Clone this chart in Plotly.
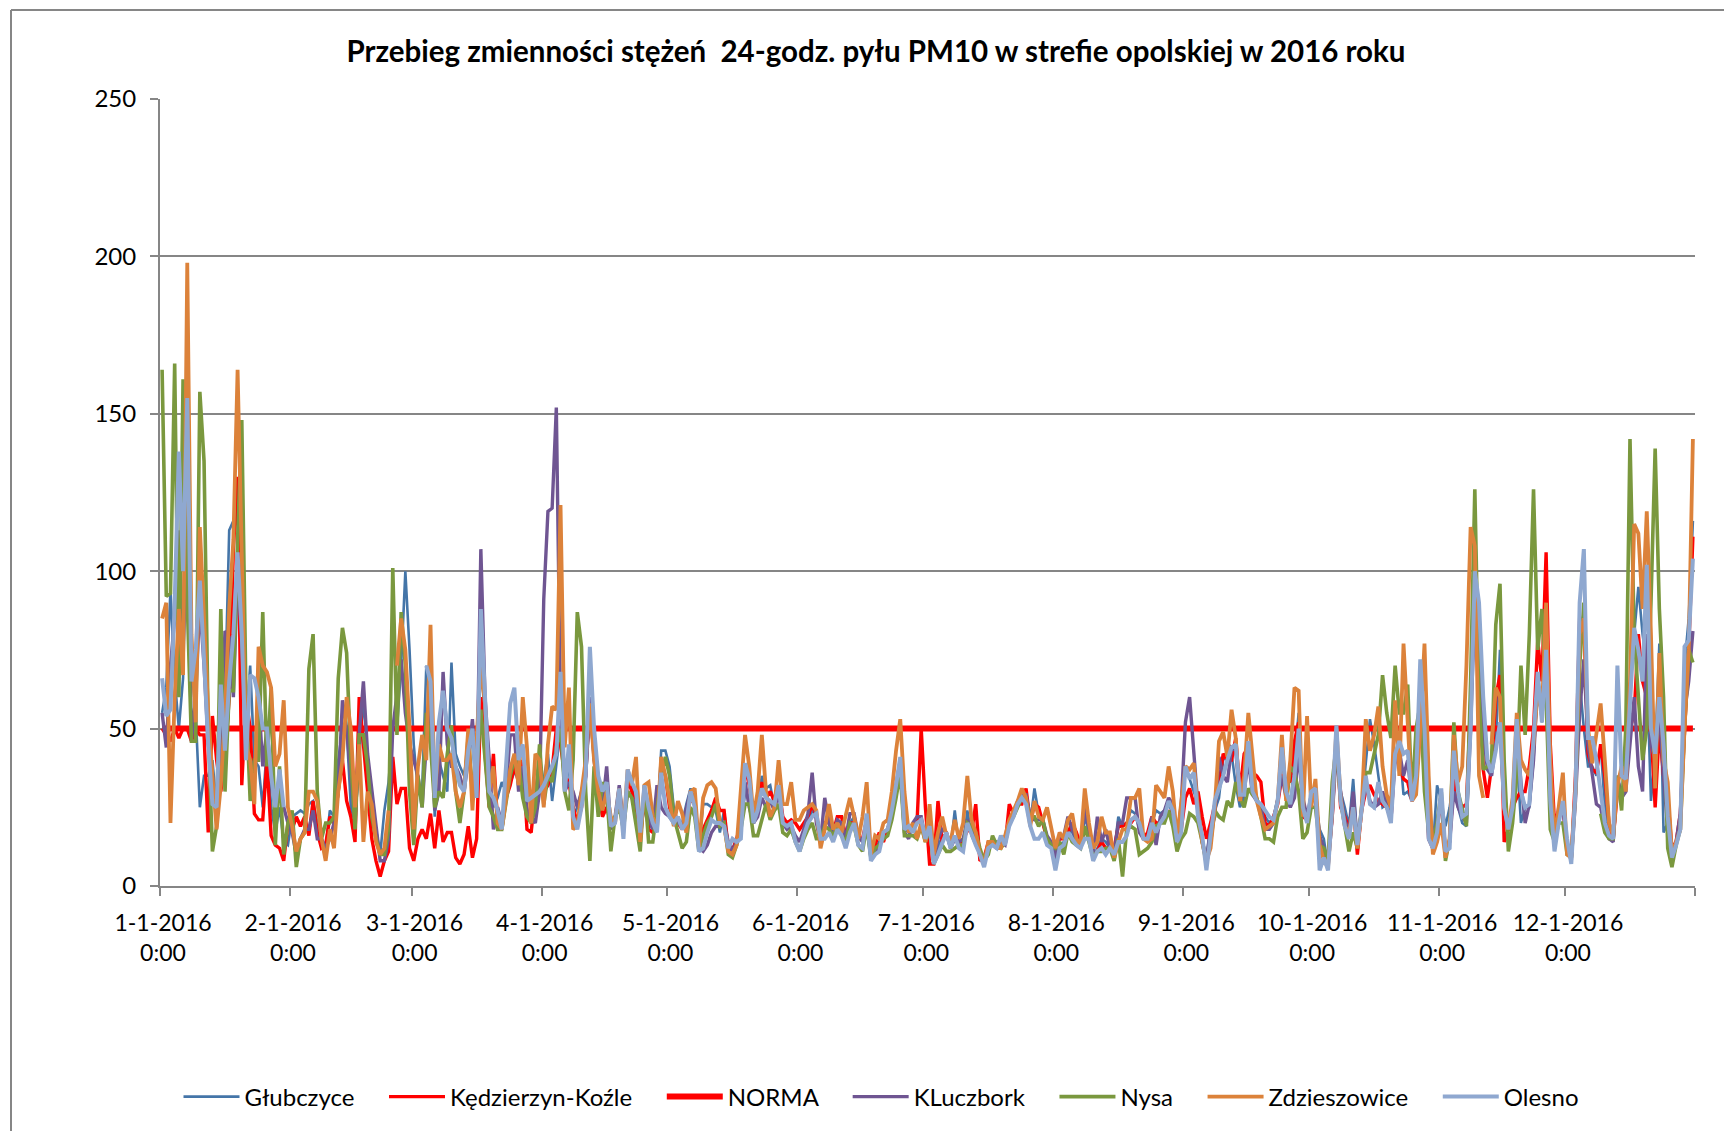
import plotly.graph_objects as go
import pandas as pd

TITLE = "Przebieg zmienności stężeń \u00a024-godz. pyłu PM10 w strefie opolskiej w 2016 roku"
MONTH_STARTS = ["2016-01-01","2016-02-01","2016-03-01","2016-04-01","2016-05-01","2016-06-01","2016-07-01",
                "2016-08-01","2016-09-01","2016-10-01","2016-11-01","2016-12-01","2017-01-01"]
TICK_TEXT = [f"{m}-1-2016<br>0:00" for m in range(1, 13)] + [""]
Y_TICKS = [0, 50, 100, 150, 200, 250]

GLUBCZYCE = [
 55,63,94,66,50,66,120,70,55,25,35,35,40,25,40,60,113,116,120,95,50,70,40,38,25,45,25,17,25,14,13,
 22,23,24,23,26,27,20,15,12,24,22,40,50,50,25,20,40,60,40,30,18,10,24,33,50,50,70,100,75,
 45,30,30,70,60,22,40,35,30,71,42,38,35,45,45,30,75,50,30,25,28,33,30,33,36,42,35,25,20,25,30,
 34,42,27,38,50,38,37,22,25,30,33,55,40,32,25,30,19,22,30,15,35,32,25,17,25,20,18,20,43,43,
 38,25,20,20,26,31,26,12,26,26,25,24,17,24,12,12,15,18,30,28,20,25,35,31,32,25,30,20,18,19,15,
 11,17,21,24,22,15,20,20,15,18,20,15,20,22,16,14,22,10,12,14,17,18,24,32,40,18,17,19,21,21,
 15,19,8,12,16,16,12,24,13,12,24,16,13,10,7,13,14,12,15,14,22,23,26,28,28,20,31,23,20,15,14,
 8,13,14,18,17,14,12,22,17,9,12,15,14,12,11,22,19,20,24,23,18,16,15,20,24,23,24,26,23,14,18,
 38,34,30,26,15,9,20,24,28,40,41,42,32,25,28,45,33,28,25,22,20,22,28,40,30,25,40,55,25,22,
 27,28,18,15,6,25,48,30,25,19,34,14,25,40,53,45,35,25,26,22,40,45,29,30,27,35,68,50,15,12,32,
 27,19,25,35,25,20,19,50,95,88,50,38,36,45,75,25,19,27,42,20,25,25,40,65,52,70,26,14,22,25,
 12,8,28,65,50,38,38,35,45,25,16,15,35,28,30,60,80,95,80,70,27,42,77,17,20,10,14,18,70,85,116]

KEDZIERZYN = [
 50,48,46,50,47,50,50,46,50,48,48,17,54,40,30,40,60,107,130,32,60,50,23,21,21,40,16,13,12,8,20,
 18,22,19,22,16,27,17,12,13,22,20,30,40,27,22,14,60,45,30,15,8,3,8,11,41,26,31,31,12,
 8,15,18,15,23,12,24,14,17,17,9,7,10,19,9,15,60,42,25,42,20,18,28,32,38,33,40,18,17,30,38,
 30,32,37,50,45,35,33,25,20,25,35,60,45,30,22,25,20,21,30,18,34,30,24,15,28,18,17,20,38,35,
 25,20,20,18,22,28,26,12,18,21,24,28,24,24,12,11,15,20,38,32,20,24,33,28,30,27,32,22,20,21,20,
 18,20,22,26,22,16,20,21,17,22,22,16,20,20,15,15,21,10,13,17,14,18,23,32,40,20,18,18,20,50,
 25,7,7,27,14,17,13,15,14,14,18,17,26,8,9,14,14,12,15,13,26,23,26,26,31,20,26,25,20,15,13,
 12,15,15,17,20,17,13,18,16,10,11,14,12,12,12,19,19,20,20,22,20,15,17,22,20,20,21,24,21,16,18,
 28,31,26,30,22,15,20,26,32,42,40,40,47,30,42,44,36,35,33,20,19,22,26,35,34,33,46,52,22,21,
 27,30,12,9,8,22,47,25,22,18,26,10,24,30,32,29,27,26,25,21,42,38,34,33,27,35,65,50,15,12,18,
 28,11,14,35,26,25,26,60,90,88,37,28,38,60,67,14,18,25,28,30,30,38,50,78,65,106,45,20,24,25,
 13,9,35,85,85,42,37,36,45,35,20,15,30,28,35,50,55,80,65,60,50,25,50,35,28,12,14,23,50,75,111]

NORMA = [50] * 366

KLUCZBORK = [
 55,44,70,85,113,75,120,46,60,90,70,45,35,25,50,81,79,60,100,78,45,40,38,60,38,50,35,25,30,25,20,
 17,10,15,18,18,24,15,15,12,15,20,30,59,50,35,20,48,65,42,30,18,8,8,15,50,60,72,55,45,
 40,35,25,45,60,24,30,68,45,38,38,35,30,40,53,30,107,60,40,18,25,20,30,48,48,30,38,24,22,20,30,
 91,119,120,152,55,30,33,30,25,30,35,60,40,30,25,38,18,22,32,20,30,28,26,20,28,22,18,32,25,23,
 22,20,20,19,25,30,28,12,11,13,17,19,19,20,14,11,14,18,33,25,20,22,28,25,27,24,30,20,18,19,16,
 14,18,23,36,20,14,28,20,16,21,20,15,23,23,16,14,20,9,11,12,17,18,23,30,38,17,15,20,22,22,
 15,20,8,15,18,17,12,15,14,15,21,18,16,10,8,13,13,14,14,13,20,23,27,29,29,22,21,21,21,16,14,
 9,16,16,22,18,15,13,25,18,10,22,14,18,12,10,20,20,28,28,28,17,15,15,22,13,22,24,28,26,15,26,
 52,60,42,25,14,8,18,22,41,35,33,44,43,27,30,40,29,27,25,18,18,20,27,35,28,25,28,42,28,22,
 29,27,16,12,6,22,43,30,21,17,30,13,24,33,27,25,26,30,26,21,40,43,35,40,27,35,62,45,15,12,20,
 28,11,14,30,25,22,20,50,90,85,50,37,35,45,50,25,18,25,50,33,20,26,40,65,55,70,25,13,25,25,
 12,8,27,55,72,45,35,26,25,18,15,14,35,28,30,45,60,38,30,80,45,40,55,35,18,10,14,23,55,65,81]

NYSA = [
 164,92,93,166,60,161,90,46,46,157,135,50,11,19,88,30,62,62,110,148,60,27,40,40,87,38,63,13,38,10,20,
 24,6,15,17,69,80,30,15,20,20,22,66,82,74,40,18,48,48,38,22,15,10,10,18,101,48,87,70,30,
 13,35,25,55,45,25,30,28,42,51,30,20,30,48,30,35,56,42,25,22,18,18,26,35,40,39,28,22,20,25,45,
 26,35,33,44,50,30,24,40,87,76,30,8,38,22,33,30,11,22,25,18,30,28,20,11,32,14,14,25,35,41,
 35,22,17,12,14,25,22,11,16,20,22,26,19,20,10,9,13,18,26,26,16,16,21,26,21,24,26,17,16,18,14,
 11,15,18,20,15,15,19,18,16,19,16,14,20,19,13,11,19,9,12,13,15,16,21,28,36,16,16,16,15,19,
 14,18,7,10,13,11,11,12,13,13,20,19,17,12,8,10,16,13,12,14,20,22,25,28,27,22,22,19,21,15,13,
 12,14,10,17,14,13,12,19,14,9,11,11,12,12,8,15,3,18,19,18,10,11,12,14,19,20,20,24,19,11,15,
 17,23,22,20,14,7,14,24,22,21,27,25,33,28,25,31,29,28,22,15,15,14,22,25,25,38,36,30,15,17,
 25,25,13,12,8,33,45,27,19,11,17,12,25,36,36,42,48,67,55,47,70,55,55,64,27,50,58,30,17,14,20,
 30,8,15,52,30,25,19,65,126,60,37,38,40,83,96,40,11,20,35,70,48,80,126,75,88,60,18,14,20,20,
 10,9,30,70,90,None,None,None,23,17,15,15,35,24,50,142,80,60,40,50,90,139,88,60,12,6,13,18,50,75,71]

ZDZIESZOWICE = [
 85,90,20,60,88,67,198,80,52,114,85,55,35,18,32,55,88,110,164,100,45,40,26,76,70,68,63,38,42,59,25,
 19,11,15,17,30,30,27,15,8,18,12,30,40,60,50,25,45,14,30,26,14,10,12,24,None,70,85,75,50,
 18,38,48,40,83,29,45,40,40,42,30,25,30,50,24,45,70,58,30,38,20,18,27,37,42,32,60,44,20,42,40,
 25,45,57,56,121,44,63,18,19,30,40,58,40,30,24,30,22,20,31,18,37,32,41,14,32,33,22,18,41,35,
 27,19,27,23,17,30,31,12,28,32,33,31,20,19,11,10,13,30,48,38,22,30,48,30,22,25,40,26,26,33,21,
 21,24,25,26,24,12,18,26,18,20,17,22,28,22,15,22,33,10,16,15,20,21,30,43,53,30,17,20,15,20,
 14,26,10,17,22,16,14,21,15,20,35,21,17,10,7,14,14,12,12,16,21,24,27,31,28,19,27,22,21,25,19,
 12,17,15,21,23,15,13,31,20,12,14,22,17,17,9,14,18,18,28,28,31,15,14,15,32,30,28,38,30,15,26,
 38,37,39,24,14,8,12,25,46,49,41,56,47,27,35,55,40,27,22,18,19,20,27,48,27,40,63,62,22,54,
 25,34,13,8,6,24,50,28,19,17,25,12,24,53,43,48,57,38,29,25,59,35,77,50,27,29,50,77,35,10,14,
 20,9,15,48,33,38,70,114,108,35,28,None,45,63,60,25,18,28,55,40,37,35,45,62,55,90,40,15,25,36,
 10,9,30,80,85,50,39,48,58,40,20,16,32,38,30,65,115,112,88,119,80,31,74,40,33,10,14,18,50,75,142]

OLESNO = [
 66,54,56,90,138,100,155,65,75,97,72,45,26,25,64,43,65,80,106,80,40,67,66,60,50,50,35,25,37,25,None,
 None,None,None,None,None,None,None,None,None,None,None,None,None,None,None,None,None,None,None,None,None,None,None,None,None,None,None,None,None,
 None,None,None,70,65,28,52,62,50,47,38,32,30,43,50,28,88,60,30,28,24,18,40,58,63,40,45,27,28,29,30,
 32,35,38,42,68,30,45,22,18,25,35,76,50,35,30,33,19,20,31,15,37,33,30,17,32,25,20,17,36,25,
 22,20,22,18,20,30,25,11,12,17,21,20,20,19,12,15,14,15,39,34,20,24,31,28,27,26,32,20,19,20,14,
 11,16,20,22,23,15,15,17,14,18,16,12,17,20,13,12,23,8,10,11,17,18,24,32,41,18,19,17,20,21,
 15,19,7,10,14,17,12,16,12,11,20,16,13,10,6,12,13,12,16,13,19,22,26,28,26,19,15,15,17,13,12,
 5,12,13,17,15,13,12,15,15,8,11,12,10,12,10,14,14,16,21,22,20,15,15,20,17,20,22,27,24,14,17,
 38,34,36,22,16,5,17,27,31,35,40,44,45,29,29,46,30,27,26,24,22,21,27,44,30,26,35,50,25,20,
 30,31,5,9,5,25,51,27,19,15,25,13,25,35,26,25,33,27,25,20,42,46,42,43,27,35,72,50,15,12,17,
 31,11,12,43,30,22,23,50,100,90,60,40,36,43,52,25,18,25,53,30,25,26,45,68,52,75,27,11,20,27,
 15,7,30,90,107,47,47,40,30,20,16,15,70,35,34,60,82,75,65,102,50,42,60,45,22,9,13,18,76,78,104]

for s in (GLUBCZYCE, KEDZIERZYN, NORMA, KLUCZBORK, NYSA, ZDZIESZOWICE, OLESNO):
    assert len(s) == 366, len(s)

dates = pd.date_range("2016-01-01 12:00", periods=366, freq="D")
PAD = "\u00a0\u00a0\u00a0\u00a0"

series = [
    ("Głubczyce" + PAD, GLUBCZYCE, "#4475A8", 2.6),
    ("Kędzierzyn-Koźle" + PAD, KEDZIERZYN, "#FF0000", 3.4),
    ("NORMA" + PAD, NORMA, "#FF0000", 6),
    ("KLuczbork" + PAD, KLUCZBORK, "#6F5592", 3.4),
    ("Nysa" + PAD, NYSA, "#7A983E", 3.6),
    ("Zdzieszowice" + PAD, ZDZIESZOWICE, "#DC823A", 3.8),
    ("Olesno", OLESNO, "#8FA8D0", 4),
]

fig = go.Figure()
for name, vals, col, w in series:
    fig.add_trace(go.Scatter(x=dates, y=vals, name=name, mode="lines",
                             line=dict(color=col, width=w, shape="linear")))

GREY = "#868686"
FONT = "Lato"
PW, PH = 1535, 787
fig.update_layout(
    width=1724, height=1131, paper_bgcolor="white", plot_bgcolor="white",
    margin=dict(l=160, r=29, t=99, b=245, autoexpand=False),
    font=dict(family=FONT, size=23, color="black"),
    title=dict(text="<b>" + TITLE + "</b>", x=876/1724, xref="container", xanchor="center",
               y=1-52/1131, yref="container", yanchor="middle", font=dict(family=FONT, size=29.5, color="black")),
    xaxis=dict(type="date", range=["2016-01-01", "2017-01-01"], tickmode="array",
               tickvals=MONTH_STARTS, ticktext=TICK_TEXT, ticks="outside", ticklen=8, tickwidth=1.5,
               tickcolor=GREY, showgrid=False, showline=True, linecolor=GREY, linewidth=2,
               tickfont=dict(family=FONT, size=23, color="black"), tickangle=0, ticklabelshift=3,
               ticklabelstandoff=7),
    yaxis=dict(range=[0, 250], tickvals=Y_TICKS, ticks="outside", ticklen=8, tickwidth=2, tickcolor=GREY,
               showgrid=True, gridcolor=GREY, gridwidth=2, zeroline=False, showline=True, linecolor=GREY,
               linewidth=2, tickfont=dict(family=FONT, size=24, color="black"), ticklabelstandoff=9),
    legend=dict(orientation="h", x=(881-160)/PW, xanchor="center", y=-(1097-886)/PH, yanchor="middle",
                font=dict(family=FONT, size=24, color="black"), itemwidth=56, bgcolor="rgba(0,0,0,0)",
                traceorder="normal"),
    shapes=[
        dict(type="line", xref="paper", yref="paper", x0=(11-160)/PW, x1=(11-160)/PW,
             y0=(886-10)/PH, y1=(886-1131)/PH, line=dict(color=GREY, width=2)),
        dict(type="line", xref="paper", yref="paper", x0=(11-160)/PW, x1=(1724-160)/PW,
             y0=(886-10)/PH, y1=(886-10)/PH, line=dict(color=GREY, width=2)),
    ],
)

fig.write_html("out.html", config={"displayModeBar": False},
               post_script="document.body.style.margin='0';")
